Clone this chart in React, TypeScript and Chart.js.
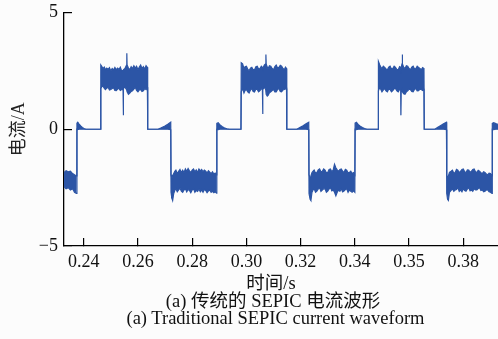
import React, { useEffect, useRef } from 'react';
import { Chart, registerables } from 'chart.js';

Chart.register(...registerables);

// Waveform envelope: [time (s), upper edge (A), lower edge (A)]
const segLow0: number[][] = [
  [0.2327, -1.85, -2.45], [0.2335, -1.78, -2.55], [0.2343, -1.82, -2.5], [0.2351, -1.8, -2.6],
  [0.2359, -1.9, -2.55], [0.2366, -1.95, -2.7], [0.2373, -2.0, -2.75],
];
const segZero1: number[][] = [
  [0.2375, 0.26, 0], [0.2378, 0.3, -0.02], [0.2383, 0.22, 0], [0.2389, 0.14, 0], [0.2395, 0.08, 0],
  [0.2401, 0.03, 0], [0.2408, 0, 0], [0.2462, 0, 0],
];
const segHigh1: number[][] = [
  [0.2463, 2.75, 1.75], [0.2467, 2.68, 1.82], [0.2471, 2.6, 1.85], [0.2476, 2.66, 1.75], [0.2480, 2.55, 1.7],
  [0.2485, 2.62, 1.76], [0.2490, 2.56, 1.8], [0.2495, 2.64, 1.68], [0.2500, 2.5, 1.7], [0.2505, 2.6, 1.74],
  [0.2510, 2.54, 1.78], [0.2515, 2.65, 1.66], [0.2520, 2.55, 1.65], [0.2525, 2.62, 1.72], [0.2530, 2.56, 1.75],
  [0.2535, 2.66, 1.66], [0.2540, 2.5, 1.7], [0.2545, 2.52, 1.7], [0.2546, 2.55, 0.6], [0.2547, 2.55, 1.75],
  [0.2552, 2.6, 1.8], [0.2558, 2.75, 1.7], [0.2559, 3.25, 1.7], [0.2560, 2.75, 1.6], [0.2565, 2.62, 1.5],
  [0.2570, 2.55, 1.55], [0.2575, 2.68, 1.62], [0.2580, 2.6, 1.65], [0.2585, 2.72, 1.72], [0.2590, 2.62, 1.8],
  [0.2595, 2.7, 1.66], [0.2600, 2.55, 1.6], [0.2605, 2.66, 1.68], [0.2610, 2.75, 1.7], [0.2615, 2.6, 1.62],
  [0.2620, 2.68, 1.65], [0.2625, 2.58, 1.74], [0.2630, 2.72, 1.7], [0.2635, 2.65, 1.8],
];
const segZero2: number[][] = [
  [0.2636, 0, 0], [0.2674, 0, 0], [0.2686, 0.06, 0], [0.2698, 0.13, 0], [0.2710, 0.21, 0], [0.2721, 0.3, -0.02],
];
const segLow1: number[][] = [
  [0.2722, -1.95, -2.7], [0.2725, -2.1, -2.95], [0.2728, -2.0, -3.05], [0.2732, -1.9, -2.75],
  [0.2736, -1.8, -2.62], [0.2740, -1.75, -2.55], [0.2745, -1.9, -2.68], [0.2750, -1.8, -2.6],
  [0.2755, -1.72, -2.52], [0.2760, -1.85, -2.65], [0.2765, -1.75, -2.7], [0.2770, -1.85, -2.6],
  [0.2775, -1.7, -2.55], [0.2780, -1.8, -2.68], [0.2785, -1.68, -2.58], [0.2790, -1.78, -2.62],
  [0.2795, -1.85, -2.72], [0.2800, -1.75, -2.6], [0.2805, -1.7, -2.55], [0.2810, -1.82, -2.7],
  [0.2815, -1.74, -2.62], [0.2820, -1.85, -2.66], [0.2825, -1.7, -2.56], [0.2830, -1.78, -2.68],
  [0.2835, -1.72, -2.6], [0.2840, -1.82, -2.7], [0.2845, -1.75, -2.58], [0.2850, -1.8, -2.62],
  [0.2855, -1.88, -2.72], [0.2860, -1.78, -2.64], [0.2865, -1.84, -2.6], [0.2870, -1.9, -2.7],
  [0.2875, -1.82, -2.66], [0.2880, -1.92, -2.72], [0.2885, -1.88, -2.68], [0.2890, -1.95, -2.74],
];
const segZero3: number[][] = [
  [0.2891, 0.25, 0], [0.2896, 0.28, -0.02], [0.2902, 0.2, 0], [0.2910, 0.12, 0], [0.2918, 0.06, 0],
  [0.2928, 0.02, 0], [0.2938, 0, 0], [0.2980, 0, 0],
];
const segHigh2: number[][] = [
  [0.2981, 2.85, 1.6], [0.2986, 2.8, 1.75], [0.2991, 2.6, 1.55], [0.2995, 2.68, 1.66], [0.3000, 2.7, 1.7],
  [0.3005, 2.58, 1.6], [0.3010, 2.5, 1.55], [0.3015, 2.62, 1.68], [0.3020, 2.65, 1.75], [0.3025, 2.55, 1.62],
  [0.3030, 2.55, 1.6], [0.3035, 2.68, 1.72], [0.3040, 2.7, 1.7], [0.3045, 2.58, 1.6], [0.3050, 2.6, 1.65],
  [0.3055, 2.7, 1.74], [0.3059, 2.65, 1.7], [0.3060, 2.6, 0.65], [0.3061, 2.6, 1.7], [0.3066, 2.75, 1.8],
  [0.3071, 2.8, 1.7], [0.3072, 3.2, 1.7], [0.3073, 2.8, 1.5], [0.3077, 2.66, 1.42], [0.3080, 2.6, 1.45],
  [0.3085, 2.72, 1.56], [0.3090, 2.7, 1.6], [0.3095, 2.6, 1.66], [0.3100, 2.55, 1.7], [0.3105, 2.68, 1.6],
  [0.3110, 2.75, 1.6], [0.3115, 2.62, 1.7], [0.3120, 2.65, 1.75], [0.3125, 2.74, 1.62], [0.3130, 2.7, 1.6],
  [0.3135, 2.6, 1.68], [0.3140, 2.55, 1.7], [0.3144, 2.66, 1.72], [0.3148, 2.6, 1.75],
];
const segZero4: number[][] = [
  [0.3149, 0, 0], [0.3186, 0, 0], [0.3197, 0.07, 0], [0.3209, 0.15, 0], [0.3220, 0.23, 0], [0.3230, 0.3, -0.02],
];
const segLow2: number[][] = [
  [0.3231, -1.95, -2.75], [0.3235, -2.1, -3.0], [0.3238, -2.0, -3.05], [0.3242, -1.85, -2.7],
  [0.3246, -1.8, -2.6], [0.3250, -1.75, -2.55], [0.3255, -1.88, -2.7], [0.3260, -1.85, -2.65],
  [0.3265, -1.74, -2.56], [0.3270, -1.7, -2.5], [0.3275, -1.82, -2.66], [0.3280, -1.8, -2.6],
  [0.3285, -1.7, -2.55], [0.3290, -1.75, -2.55], [0.3295, -1.86, -2.7], [0.3300, -1.85, -2.65],
  [0.3305, -1.72, -2.56], [0.3310, -1.7, -2.5], [0.3315, -1.82, -2.64], [0.3320, -1.75, -2.6],
  [0.3325, -1.5, -2.7], [0.3330, -1.65, -2.85], [0.3335, -1.74, -2.7], [0.3340, -1.8, -2.6],
  [0.3345, -1.72, -2.66], [0.3350, -1.7, -2.55], [0.3355, -1.8, -2.68], [0.3360, -1.85, -2.65],
  [0.3365, -1.72, -2.58], [0.3370, -1.75, -2.55], [0.3375, -1.86, -2.7], [0.3380, -1.85, -2.6],
  [0.3385, -1.8, -2.66], [0.3390, -1.9, -2.7], [0.3395, -1.86, -2.64], [0.3400, -1.95, -2.7],
];
const segZero5: number[][] = [
  [0.3401, 0.26, 0], [0.3406, 0.3, -0.02], [0.3412, 0.21, 0], [0.3420, 0.13, 0], [0.3428, 0.07, 0],
  [0.3436, 0.03, 0], [0.3445, 0, 0], [0.3486, 0, 0],
];
const segHigh3: number[][] = [
  [0.3487, 2.9, 1.65], [0.3492, 2.75, 1.8], [0.3496, 2.66, 1.7], [0.3500, 2.6, 1.6], [0.3505, 2.7, 1.68],
  [0.3510, 2.65, 1.75], [0.3515, 2.58, 1.64], [0.3520, 2.55, 1.6], [0.3525, 2.66, 1.72], [0.3530, 2.7, 1.7],
  [0.3535, 2.58, 1.6], [0.3540, 2.6, 1.65], [0.3545, 2.7, 1.74], [0.3550, 2.65, 1.75], [0.3555, 2.56, 1.64],
  [0.3560, 2.55, 1.6], [0.3565, 2.68, 1.7], [0.3569, 2.65, 1.7], [0.3570, 2.6, 0.6], [0.3571, 2.65, 1.6],
  [0.3574, 2.8, 1.7], [0.3575, 3.2, 1.75], [0.3576, 2.8, 1.6], [0.3580, 2.66, 1.52], [0.3585, 2.6, 1.5],
  [0.3590, 2.72, 1.6], [0.3595, 2.7, 1.65], [0.3600, 2.6, 1.72], [0.3605, 2.55, 1.7], [0.3610, 2.66, 1.62],
  [0.3615, 2.7, 1.6], [0.3620, 2.58, 1.7], [0.3625, 2.6, 1.75], [0.3630, 2.7, 1.64], [0.3635, 2.65, 1.65],
  [0.3640, 2.6, 1.72], [0.3645, 2.55, 1.7], [0.3650, 2.64, 1.66], [0.3655, 2.6, 1.7],
];
const segZero6: number[][] = [
  [0.3656, 0, 0], [0.3695, 0, 0], [0.3706, 0.08, 0], [0.3717, 0.16, 0], [0.3727, 0.23, 0], [0.3738, 0.3, -0.02],
];
const segLow3: number[][] = [
  [0.3739, -1.95, -2.75], [0.3742, -2.1, -3.0], [0.3745, -2.0, -3.05], [0.3749, -1.85, -2.7],
  [0.3755, -1.8, -2.62], [0.3760, -1.75, -2.55], [0.3765, -1.88, -2.66], [0.3770, -1.85, -2.6],
  [0.3775, -1.72, -2.58], [0.3780, -1.75, -2.5], [0.3785, -1.86, -2.66], [0.3790, -1.8, -2.6],
  [0.3795, -1.72, -2.68], [0.3800, -1.7, -2.55], [0.3805, -1.82, -2.62], [0.3810, -1.85, -2.65],
  [0.3815, -1.74, -2.56], [0.3820, -1.75, -2.5], [0.3825, -1.84, -2.64], [0.3830, -1.8, -2.6],
  [0.3835, -1.72, -2.66], [0.3840, -1.7, -2.55], [0.3845, -1.82, -2.6], [0.3850, -1.85, -2.6],
  [0.3855, -1.76, -2.54], [0.3860, -1.8, -2.5], [0.3865, -1.86, -2.62], [0.3870, -1.9, -2.6],
  [0.3875, -1.82, -2.68], [0.3880, -1.85, -2.65], [0.3885, -1.92, -2.6], [0.3890, -1.95, -2.6],
  [0.3895, -1.88, -2.68], [0.3900, -1.9, -2.7], [0.3906, -2.0, -2.75],
];
const segZero7: number[][] = [
  [0.3907, 0.25, 0], [0.3912, 0.28, -0.02], [0.3920, 0.24, 0], [0.3930, 0.2, 0],
];

const segments = [
  segLow0, segZero1, segHigh1, segZero2, segLow1, segZero3, segHigh2, segZero4,
  segLow2, segZero5, segHigh3, segZero6, segLow3, segZero7,
];

const xMin = 0.23273;
const xMax = 0.3928;
const xTickValues = [0.24, 0.26, 0.28, 0.30, 0.32, 0.34, 0.36, 0.38];
const xTickLabels = ['0.24', '0.26', '0.28', '0.30', '0.32', '0.34', '0.35', '0.38'];
const yTickValues = [-5, 0, 5];
const yTickLabels = ['\u22125', '0', '5'];

const xTitle = '时间/s';
const yTitle = '电流/A';
const caption1 = '(a) 传统的 SEPIC 电流波形';
const caption2 = '(a) Traditional SEPIC current waveform';

const FONT = "'Liberation Serif', 'Times New Roman', 'Noto Sans CJK SC', serif";
const BLUE = '#2c55a6';

export default function App() {
  const canvasRef = useRef<HTMLCanvasElement | null>(null);

  useEffect(() => {
    document.body.style.margin = '0';
    const canvas = canvasRef.current;
    if (!canvas) return;
    const all = segments.flat();
    const upper = all.map((p) => ({ x: p[0], y: p[1] }));
    const lower = all.map((p) => ({ x: p[0], y: p[2] }));

    const chart = new Chart(canvas, {
      type: 'line',
      data: {
        datasets: [
          {
            label: 'lower',
            data: lower,
            borderColor: BLUE,
            borderWidth: 1.2,
            pointRadius: 0,
            tension: 0,
            fill: false,
          },
          {
            label: 'upper',
            data: upper,
            borderColor: BLUE,
            backgroundColor: BLUE,
            borderWidth: 1.2,
            pointRadius: 0,
            tension: 0,
            fill: '-1',
          },
        ],
      },
      options: {
        animation: false,
        responsive: false,
        maintainAspectRatio: false,
        parsing: false,
        normalized: true,
        layout: { padding: { top: 12.5, right: 0, bottom: 0, left: 0 } },
        plugins: {
          legend: { display: false },
          tooltip: { enabled: false },
          title: { display: false },
        },
        scales: {
          x: {
            type: 'linear',
            min: xMin,
            max: xMax,
            afterBuildTicks: (scale: any) => {
              scale.ticks = xTickValues.map((v) => ({ value: v }));
            },
            afterFit: (scale: any) => {
              scale.height = 93;
              scale.paddingLeft = 0;
              scale.paddingRight = 0;
            },
            ticks: {
              autoSkip: false,
              maxRotation: 0,
              padding: 13.5,
              color: '#111',
              font: { family: FONT, size: 18 },
              callback: (value: any) => {
                const i = xTickValues.findIndex((v) => Math.abs(v - value) < 1e-6);
                return i >= 0 ? xTickLabels[i] : '';
              },
            },
            grid: {
              display: true,
              drawOnChartArea: false,
              drawTicks: true,
              tickLength: -8,
              color: '#000',
              lineWidth: 1.2,
            },
            border: { display: true, color: '#000', width: 1.3 },
          },
          y: {
            type: 'linear',
            min: -5,
            max: 5,
            afterBuildTicks: (scale: any) => {
              scale.ticks = yTickValues.map((v) => ({ value: v }));
            },
            afterFit: (scale: any) => {
              scale.width = 64;
              scale.paddingTop = 0;
              scale.paddingBottom = 0;
            },
            ticks: {
              autoSkip: false,
              padding: 14,
              color: '#111',
              font: { family: FONT, size: 18 },
              callback: (value: any) => {
                const i = yTickValues.findIndex((v) => Math.abs(v - value) < 1e-6);
                return i >= 0 ? yTickLabels[i] : '';
              },
            },
            title: {
              display: true,
              text: yTitle,
              color: '#222',
              font: { family: FONT, size: 18, lineHeight: 1 },
              padding: { top: 10, bottom: 0 },
            },
            grid: {
              display: true,
              drawOnChartArea: false,
              drawTicks: true,
              tickLength: -8,
              color: '#000',
              lineWidth: 1.2,
            },
            border: { display: true, color: '#000', width: 1.3 },
          },
        },
      },
    });
    return () => chart.destroy();
  }, []);

  const textStyle: React.CSSProperties = {
    position: 'absolute',
    transform: 'translate(-50%, -50%)',
    whiteSpace: 'nowrap',
    fontFamily: FONT,
    fontSize: 18.5,
    lineHeight: 1,
    color: '#111',
  };

  return (
    <div style={{ position: 'relative', width: 498, height: 339, background: '#fcfcfc', overflow: 'hidden' }}>
      <canvas ref={canvasRef} width={498} height={339} style={{ display: 'block', width: 498, height: 339 }} />
      <div style={{ ...textStyle, left: 271, top: 282.5 }}>{xTitle}</div>
      <div style={{ ...textStyle, left: 273, top: 301 }}>{caption1}</div>
      <div style={{ ...textStyle, left: 275.5, top: 317.5 }}>{caption2}</div>
    </div>
  );
}
